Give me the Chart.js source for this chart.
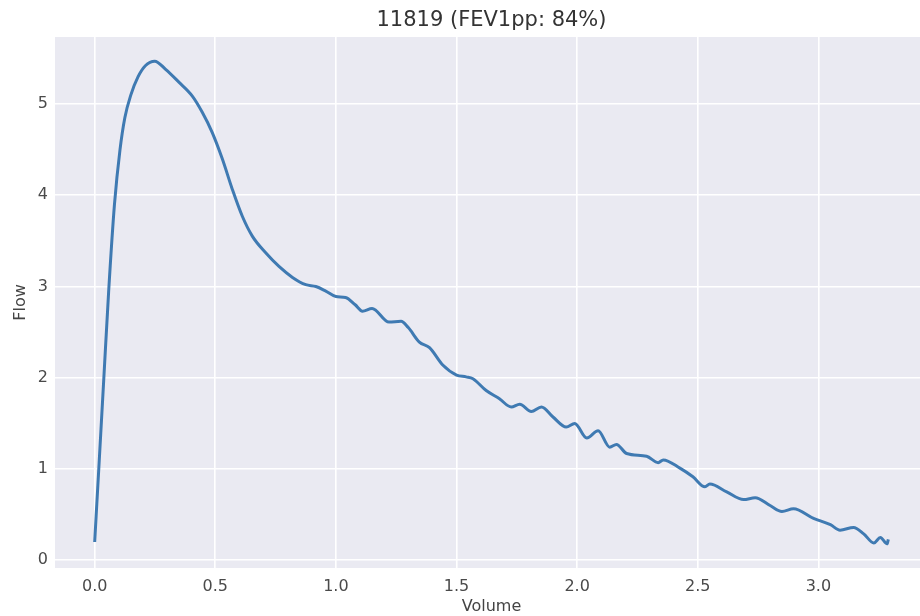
<!DOCTYPE html>
<html>
<head>
<meta charset="utf-8">
<script src="https://cdn.jsdelivr.net/npm/chart.js@4"></script>
<style>
  html, body { margin: 0; padding: 0; background: #fff; overflow: hidden; }
  #wrap { width: 928px; height: 616px; }
</style>
</head>
<body>
<div id="wrap"><canvas id="myChart" width="928" height="616"></canvas></div>
<script>
// values
const chartTitle = "11819 (FEV1pp: 84%)";
const volume = [0.000, 0.018, 0.038, 0.058, 0.082, 0.105, 0.125, 0.150, 0.180, 0.210, 0.249,
  0.294, 0.349, 0.404, 0.446, 0.487, 0.529, 0.570, 0.612, 0.654, 0.709,
  0.764, 0.820, 0.875, 0.917, 0.958, 1.000, 1.040, 1.080, 1.110, 1.150,
  1.220, 1.270, 1.300, 1.346, 1.388, 1.443, 1.500, 1.540, 1.568, 1.623,
  1.678, 1.727, 1.762, 1.810, 1.852, 1.900, 1.955, 1.990, 2.040, 2.087,
  2.135, 2.163, 2.205, 2.288, 2.336, 2.357, 2.426, 2.480, 2.530, 2.550,
  2.620, 2.690, 2.738, 2.800, 2.849, 2.897, 2.980, 3.050, 3.090, 3.146,
  3.188, 3.230, 3.257, 3.285, 3.290];
const flow = [0.20, 1.05, 2.00, 2.95, 3.90, 4.50, 4.85, 5.10, 5.30, 5.42, 5.47,
  5.38, 5.24, 5.09, 4.91, 4.69, 4.40, 4.07, 3.77, 3.55, 3.37,
  3.22, 3.10, 3.02, 3.00, 2.95, 2.89, 2.88, 2.80, 2.73, 2.76,
  2.61, 2.62, 2.55, 2.39, 2.33, 2.14, 2.03, 2.01, 1.99, 1.86,
  1.77, 1.68, 1.71, 1.63, 1.68, 1.57, 1.46, 1.50, 1.34, 1.42,
  1.24, 1.27, 1.17, 1.14, 1.07, 1.10, 1.01, 0.915, 0.805, 0.835,
  0.75, 0.665, 0.685, 0.60, 0.535, 0.565, 0.46, 0.39, 0.33, 0.36,
  0.29, 0.19, 0.25, 0.18, 0.23];
const xTicks = [0.0, 0.5, 1.0, 1.5, 2.0, 2.5, 3.0];
const yTicks = [0, 1, 2, 3, 4, 5];

// matplotlib style 5% margins
const xPad = (Math.max(...volume) - Math.min(...volume)) * 0.05;
const yPad = (Math.max(...flow) - Math.min(...flow)) * 0.05;

const points = volume.map((v, i) => ({x: v, y: flow[i]}));

const bgPlugin = {
  id: "bg",
  beforeDraw(chart) {
    const a = chart.chartArea, ctx = chart.ctx;
    ctx.save();
    ctx.fillStyle = "#eaeaf2";
    ctx.fillRect(a.left, a.top, a.right - a.left, a.bottom - a.top);
    ctx.restore();
  },
  afterDraw(chart) {
    const a = chart.chartArea, ctx = chart.ctx;
    ctx.save();
    ctx.font = "21px 'DejaVu Sans'";
    ctx.fillStyle = "#333";
    ctx.textAlign = "center";
    ctx.textBaseline = "middle";
    ctx.fillText(chartTitle, (a.left + a.right) / 2, 21);
    ctx.restore();
  }
};

new Chart("myChart", {
  type: "scatter",
  data: {
    datasets: [{
      data: points,
      showLine: true,
      borderColor: "#3f7ab2",
      borderWidth: 3,
      pointRadius: 0,
      cubicInterpolationMode: "monotone",
      fill: false
    }]
  },
  options: {
    responsive: false,
    animation: false,
    layout: {padding: {top: 37, right: 0, left: 0, bottom: 0}},
    plugins: {legend: {display: false}, tooltip: {enabled: false}},
    scales: {
      x: {
        type: "linear",
        min: Math.min(...volume) - xPad,
        max: Math.max(...volume) + xPad,
        afterBuildTicks: s => { s.ticks = xTicks.map(v => ({value: v})); },
        afterFit: s => { s.height = 48; },
        border: {display: false},
        grid: {color: "#ffffff", lineWidth: 1.6, drawTicks: false},
        ticks: {
          padding: 9,
          color: "#4a4a4a",
          font: {family: "DejaVu Sans", size: 16},
          callback: v => Number(v).toFixed(1)
        },
        title: {
          display: true, text: "Volume", color: "#444",
          font: {family: "DejaVu Sans", size: 16},
          padding: {top: 0, bottom: 0}
        }
      },
      y: {
        type: "linear",
        min: Math.min(...flow) - yPad,
        max: Math.max(...flow) + yPad,
        afterBuildTicks: s => { s.ticks = yTicks.map(v => ({value: v})); },
        afterFit: s => { s.width = 55; },
        border: {display: false},
        grid: {color: "#ffffff", lineWidth: 1.6, drawTicks: false},
        ticks: {
          padding: 7,
          color: "#4a4a4a",
          font: {family: "DejaVu Sans", size: 16}
        },
        title: {
          display: true, text: "Flow", color: "#444",
          font: {family: "DejaVu Sans", size: 16},
          padding: {top: 11, bottom: 0}
        }
      }
    }
  },
  plugins: [bgPlugin]
});
</script>
</body>
</html>
